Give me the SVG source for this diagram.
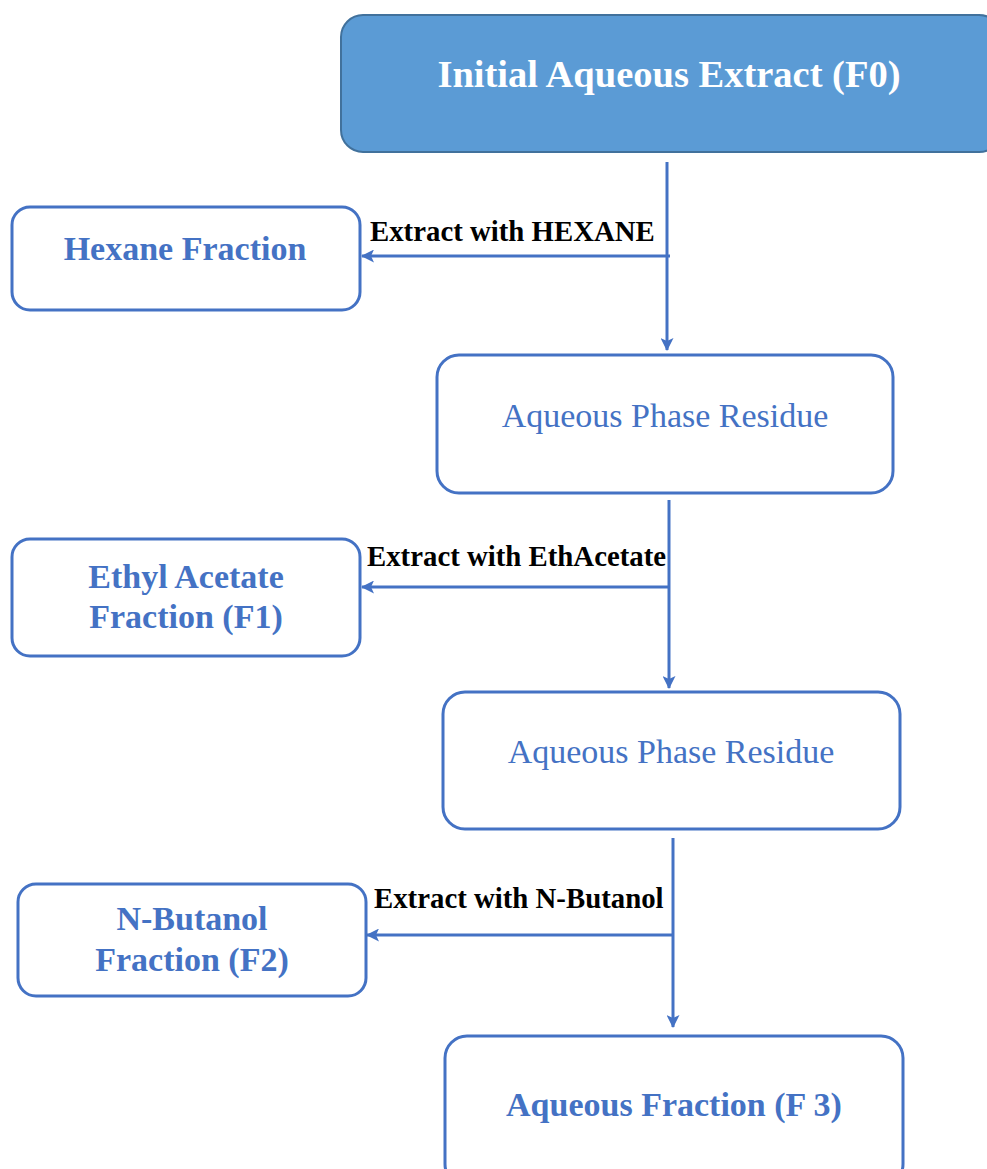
<svg xmlns="http://www.w3.org/2000/svg" width="987" height="1169" viewBox="0 0 987 1169">
<defs>
<marker id="arr" markerWidth="13" markerHeight="13" viewBox="0 0 13 13" refX="12" refY="6.5" orient="auto" markerUnits="userSpaceOnUse">
<path d="M0,0 L13,6.5 L0,13 L3,6.5 Z" fill="#4472C4"/>
</marker>
<style>
.box{fill:#fff;stroke:#4472C4;stroke-width:3}
.top{fill:#5B9BD5;stroke:#41719C;stroke-width:2}
.conn{stroke:#4472C4;stroke-width:3;fill:none}
.t{font-family:"Liberation Serif","Times New Roman",serif;text-anchor:middle}
.nb{font-weight:bold;fill:#4472C4;font-size:34px}
.nr{fill:#4472C4;font-size:34px}
.lbl{font-family:"Liberation Serif","Times New Roman",serif;font-weight:bold;font-size:28.8px;fill:#000}
</style>
</defs>
<rect width="987" height="1169" fill="#fff"/>
<g id="connectors">
<line class="conn" x1="667" y1="162" x2="667" y2="350" marker-end="url(#arr)"/>
<line class="conn" x1="670" y1="256" x2="362" y2="256" marker-end="url(#arr)"/>
<line class="conn" x1="669" y1="500" x2="669" y2="688" marker-end="url(#arr)"/>
<line class="conn" x1="669" y1="587" x2="362" y2="587" marker-end="url(#arr)"/>
<line class="conn" x1="673" y1="838" x2="673" y2="1027" marker-end="url(#arr)"/>
<line class="conn" x1="673" y1="935" x2="367" y2="935" marker-end="url(#arr)"/>
<text class="lbl" x="370" y="241">Extract with HEXANE</text>
<text class="lbl" x="367" y="566">Extract with EthAcetate</text>
<text class="lbl" x="374" y="908">Extract with N-Butanol</text>
</g>
<g id="f0">
<rect class="top" x="341" y="15" width="660" height="137" rx="22"/>
<text class="t" x="669" y="87" font-size="38.5" font-weight="bold" fill="#fff">Initial Aqueous Extract (F0)</text>
</g>
<g id="hexane">
<rect class="box" x="12" y="207" width="348" height="103" rx="18"/>
<text class="t nb" x="185" y="260">Hexane Fraction</text>
</g>
<g id="aq1">
<rect class="box" x="437" y="355" width="456" height="138" rx="22"/>
<text class="t nr" x="665" y="427">Aqueous Phase Residue</text>
</g>
<g id="ethyl">
<rect class="box" x="12" y="539" width="348" height="117" rx="18"/>
<text class="t nb" x="186" y="588">Ethyl Acetate</text>
<text class="t nb" x="186" y="628">Fraction (F1)</text>
</g>
<g id="aq2">
<rect class="box" x="443" y="692" width="457" height="137" rx="22"/>
<text class="t nr" x="671" y="763">Aqueous Phase Residue</text>
</g>
<g id="butanol">
<rect class="box" x="18" y="884" width="348" height="112" rx="18"/>
<text class="t nb" x="192" y="930">N-Butanol</text>
<text class="t nb" x="192" y="971">Fraction (F2)</text>
</g>
<g id="f3">
<rect class="box" x="445" y="1036" width="458" height="150" rx="22"/>
<text class="t nb" x="674" y="1116">Aqueous Fraction (F 3)</text>
</g>
</svg>
